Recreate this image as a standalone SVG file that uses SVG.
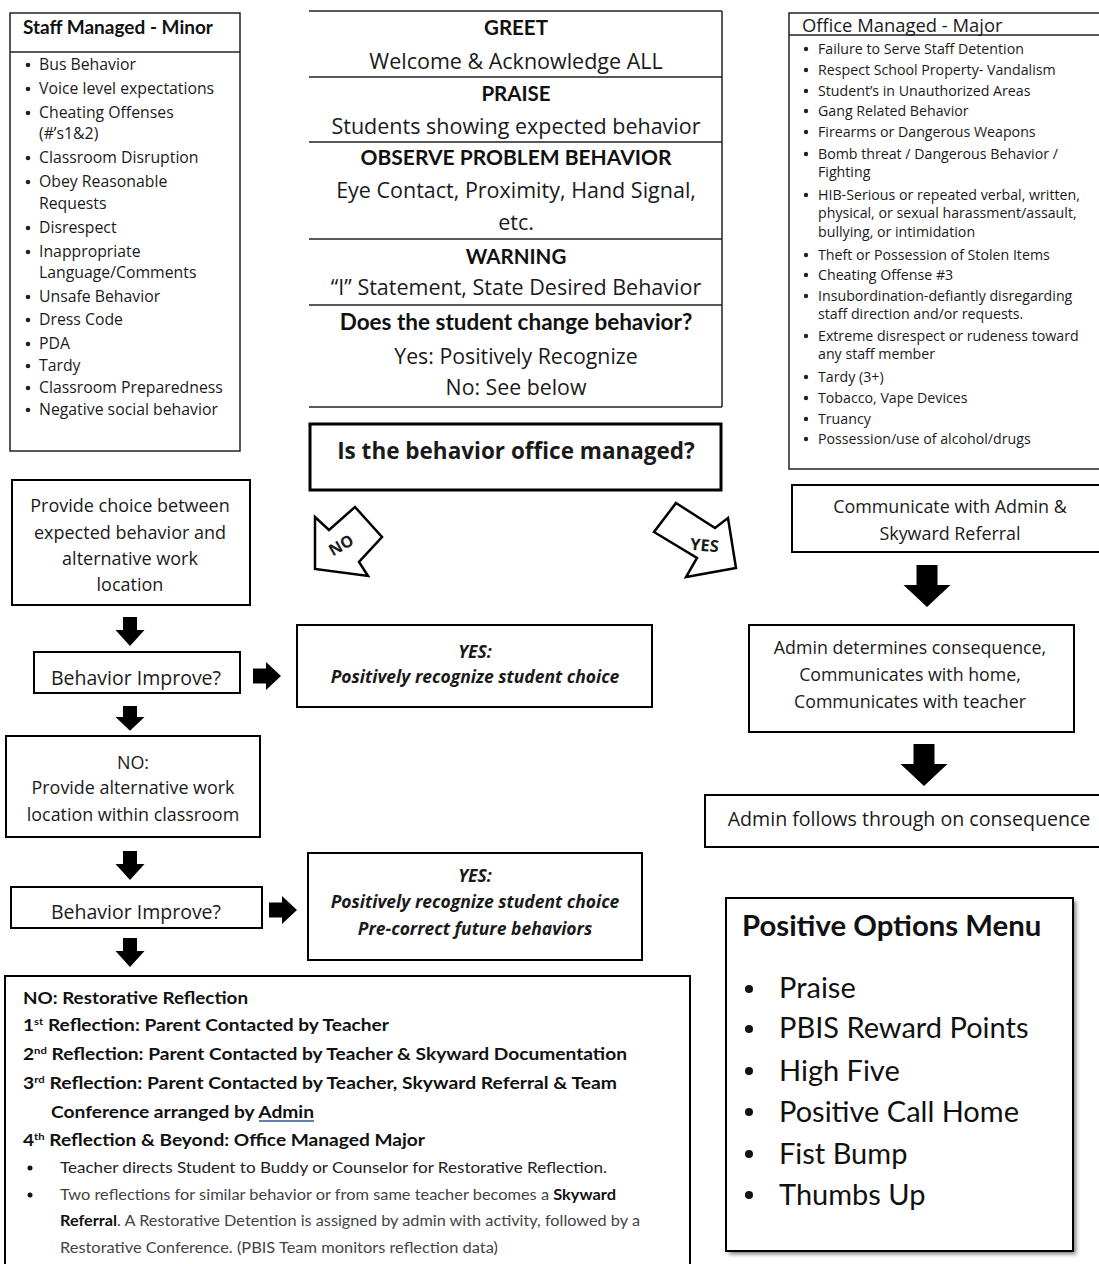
<svg xmlns="http://www.w3.org/2000/svg" width="1099" height="1264" viewBox="0 0 1099 1264">
<defs>
<style>
.bx{fill:#fff;stroke:#000;stroke-width:2}
.ln{stroke:#222;stroke-width:1.5;fill:none}
.os{font-family:"Open Sans","Noto Sans",sans-serif;fill:#1a1a1a}
.lt{font-family:Lato,"Open Sans",sans-serif;fill:#111}
.c{text-anchor:middle}
.b{font-weight:bold}
.bi{font-weight:bold;font-style:italic}
.arr{fill:#000}
.li{font-size:15.8px}
.ri{font-size:14.2px}
</style>
<path id="dn" d="M-7,0 H7 V13 H14.5 L0,29 L-14.5,13 H-7 Z"/>
<path id="dnL" d="M-10.5,0 H10.5 V20 H23.5 L0,42 L-23.5,20 H-10.5 Z"/>
<path id="rt" d="M0,-7.5 H13 V-14 L28,0 L13,14 V7.5 H0 Z"/>
<filter id="sh" x="-10%" y="-10%" width="130%" height="130%"><feGaussianBlur stdDeviation="2"/></filter>
</defs>

<g id="staff-minor">
<rect x="10" y="13" width="230" height="438" fill="#fff" stroke="#222" stroke-width="1.5"/>
<line class="ln" x1="10" y1="52" x2="240" y2="52"/>
<text class="lt b" x="23" y="34" font-size="19">Staff Managed - Minor</text>
<g fill="#222">
<circle cx="28" cy="65" r="2.3"/><circle cx="28" cy="89" r="2.3"/><circle cx="28" cy="113" r="2.3"/>
<circle cx="28" cy="158" r="2.3"/><circle cx="28" cy="182" r="2.3"/><circle cx="28" cy="228" r="2.3"/>
<circle cx="28" cy="252" r="2.3"/><circle cx="28" cy="297" r="2.3"/><circle cx="28" cy="320" r="2.3"/>
<circle cx="28" cy="344" r="2.3"/><circle cx="28" cy="366" r="2.3"/><circle cx="28" cy="388" r="2.3"/>
<circle cx="28" cy="410" r="2.3"/>
</g>
<g class="os li">
<text x="39" y="70">Bus Behavior</text>
<text x="39" y="94">Voice level expectations</text>
<text x="39" y="118">Cheating Offenses</text>
<text x="39" y="139">(#’s1&amp;2)</text>
<text x="39" y="163">Classroom Disruption</text>
<text x="39" y="187">Obey Reasonable</text>
<text x="39" y="209">Requests</text>
<text x="39" y="233">Disrespect</text>
<text x="39" y="257">Inappropriate</text>
<text x="39" y="278">Language/Comments</text>
<text x="39" y="302">Unsafe Behavior</text>
<text x="39" y="325">Dress Code</text>
<text x="39" y="349">PDA</text>
<text x="39" y="371">Tardy</text>
<text x="39" y="393">Classroom Preparedness</text>
<text x="39" y="415">Negative social behavior</text>
</g>
</g>

<g id="steps">
<g stroke="#222" stroke-width="1.5">
<line x1="309" y1="11" x2="722" y2="11"/>
<line x1="309" y1="77" x2="722" y2="77"/>
<line x1="309" y1="142" x2="722" y2="142"/>
<line x1="309" y1="239" x2="722" y2="239"/>
<line x1="309" y1="305" x2="722" y2="305"/>
<line x1="309" y1="407" x2="722" y2="407"/>
<line x1="722" y1="11" x2="722" y2="407"/>
</g>
<text class="lt b c" x="516" y="35" font-size="20.5">GREET</text>
<text class="os c" x="516" y="69" font-size="21.5">Welcome &amp; Acknowledge ALL</text>
<text class="lt b c" x="516" y="101" font-size="20.5">PRAISE</text>
<text class="os c" x="516" y="134" font-size="21.5">Students showing expected behavior</text>
<text class="lt b c" x="516" y="165" font-size="21">OBSERVE PROBLEM BEHAVIOR</text>
<text class="os c" x="516" y="198" font-size="21.5">Eye Contact, Proximity, Hand Signal,</text>
<text class="os c" x="516" y="230" font-size="21.5">etc.</text>
<text class="lt b c" x="516" y="264" font-size="20.5">WARNING</text>
<text class="os c" x="516" y="295" font-size="21.5">“I” Statement, State Desired Behavior</text>
<text class="lt b c" x="516" y="330" font-size="22.5">Does the student change behavior?</text>
<text class="os c" x="516" y="364" font-size="21.3">Yes: Positively Recognize</text>
<text class="os c" x="516" y="395" font-size="21.3">No: See below</text>
</g>

<g id="office-question">
<rect x="310" y="424" width="411" height="66" fill="#fff" stroke="#000" stroke-width="3"/>
<text class="os b c" x="516" y="459" font-size="22.5">Is the behavior office managed?</text>
</g>

<g id="office-major">
<rect x="789" y="13" width="315" height="456" fill="#fff" stroke="#222" stroke-width="1.5"/>
<line class="ln" x1="789" y1="35" x2="1099" y2="35"/>
<text class="os" x="802" y="32" font-size="18.4">Office Managed - Major</text>
<g fill="#222">
<circle cx="806" cy="49" r="2.2"/><circle cx="806" cy="70" r="2.2"/><circle cx="806" cy="91" r="2.2"/>
<circle cx="806" cy="111" r="2.2"/><circle cx="806" cy="132" r="2.2"/><circle cx="806" cy="154" r="2.2"/>
<circle cx="806" cy="195" r="2.2"/><circle cx="806" cy="255" r="2.2"/><circle cx="806" cy="275" r="2.2"/>
<circle cx="806" cy="296" r="2.2"/><circle cx="806" cy="336" r="2.2"/><circle cx="806" cy="377" r="2.2"/>
<circle cx="806" cy="398" r="2.2"/><circle cx="806" cy="419" r="2.2"/><circle cx="806" cy="439" r="2.2"/>
</g>
<g class="os ri">
<text x="818" y="54">Failure to Serve Staff Detention</text>
<text x="818" y="75">Respect School Property- Vandalism</text>
<text x="818" y="96">Student’s in Unauthorized Areas</text>
<text x="818" y="116">Gang Related Behavior</text>
<text x="818" y="137">Firearms or Dangerous Weapons</text>
<text x="818" y="159">Bomb threat / Dangerous Behavior /</text>
<text x="818" y="177">Fighting</text>
<text x="818" y="200">HIB-Serious or repeated verbal, written,</text>
<text x="818" y="218">physical, or sexual harassment/assault,</text>
<text x="818" y="237">bullying, or intimidation</text>
<text x="818" y="260">Theft or Possession of Stolen Items</text>
<text x="818" y="280">Cheating Offense #3</text>
<text x="818" y="301">Insubordination-defiantly disregarding</text>
<text x="818" y="319">staff direction and/or requests.</text>
<text x="818" y="341">Extreme disrespect or rudeness toward</text>
<text x="818" y="359">any staff member</text>
<text x="818" y="382">Tardy (3+)</text>
<text x="818" y="403">Tobacco, Vape Devices</text>
<text x="818" y="424">Truancy</text>
<text x="818" y="444">Possession/use of alcohol/drugs</text>
</g>
</g>

<g id="no-arrow">
<polygon points="315,517 329,530 355,507 382,537 359,562 368,576 315,569" fill="#fff" stroke="#000" stroke-width="2.5" stroke-linejoin="miter"/>
<text class="os b c" x="0" y="0" font-size="16" transform="translate(344,550) rotate(-30)">NO</text>
</g>
<g id="yes-arrow">
<polygon points="676,503 715,528 728,518 736,568 686,577 697,558 654,532" fill="#fff" stroke="#000" stroke-width="2.5" stroke-linejoin="miter"/>
<text class="os b c" x="0" y="0" font-size="16.5" transform="translate(704,551) rotate(5)">YES</text>
</g>

<g id="provide-choice">
<rect class="bx" x="12" y="480" width="238" height="125"/>
<text class="os c" x="130" y="512" font-size="18">Provide choice between</text>
<text class="os c" x="130" y="539" font-size="18">expected behavior and</text>
<text class="os c" x="130" y="565" font-size="18">alternative work</text>
<text class="os c" x="130" y="591" font-size="18">location</text>
</g>

<g id="behavior-improve-1">
<rect class="bx" x="34" y="652" width="206" height="41"/>
<text class="os c" x="136" y="685" font-size="19.5">Behavior Improve?</text>
</g>

<g id="yes-1">
<rect class="bx" x="297" y="625" width="355" height="82"/>
<text class="os bi c" x="475" y="658" font-size="17.5">YES:</text>
<text class="os bi c" x="475" y="683" font-size="17.5">Positively recognize student choice</text>
</g>

<g id="no-alt">
<rect class="bx" x="6" y="736" width="254" height="101"/>
<text class="os c" x="133" y="769" font-size="17.9">NO:</text>
<text class="os c" x="133" y="794" font-size="17.9">Provide alternative work</text>
<text class="os c" x="133" y="821" font-size="17.9">location within classroom</text>
</g>

<g id="behavior-improve-2">
<rect class="bx" x="11" y="887" width="251" height="41"/>
<text class="os c" x="136" y="919" font-size="19.5">Behavior Improve?</text>
</g>

<g id="yes-2">
<rect class="bx" x="308" y="853" width="334" height="107"/>
<text class="os bi c" x="475" y="882" font-size="17.5">YES:</text>
<text class="os bi c" x="475" y="908" font-size="17.5">Positively recognize student choice</text>
<text class="os bi c" x="475" y="935" font-size="17.5">Pre-correct future behaviors</text>
</g>

<g id="restorative">
<rect class="bx" x="5" y="976" width="685" height="300"/>
<g class="lt b" font-size="17">
<text x="23" y="1004" textLength="225" lengthAdjust="spacingAndGlyphs">NO: Restorative Reflection</text>
<text x="23" y="1031" textLength="366" lengthAdjust="spacingAndGlyphs">1<tspan font-size="10" dy="-6">st</tspan><tspan dy="6"> Reflection: Parent Contacted by Teacher</tspan></text>
<text x="23" y="1060" textLength="604" lengthAdjust="spacingAndGlyphs">2<tspan font-size="10" dy="-6">nd</tspan><tspan dy="6"> Reflection: Parent Contacted by Teacher &amp; Skyward Documentation</tspan></text>
<text x="23" y="1089" textLength="594" lengthAdjust="spacingAndGlyphs">3<tspan font-size="10" dy="-6">rd</tspan><tspan dy="6"> Reflection: Parent Contacted by Teacher, Skyward Referral &amp; Team</tspan></text>
<text x="51" y="1118" textLength="263" lengthAdjust="spacingAndGlyphs">Conference arranged by Admin</text>
<text x="23" y="1146" textLength="402" lengthAdjust="spacingAndGlyphs">4<tspan font-size="10" dy="-6">th</tspan><tspan dy="6"> Reflection &amp; Beyond: Office Managed Major</tspan></text>
</g>
<line x1="259" y1="1121" x2="314" y2="1121" stroke="#2f5496" stroke-width="1.3"/>
<circle cx="30" cy="1168" r="2.5" fill="#111"/>
<circle cx="30" cy="1195" r="2.5" fill="#111"/>
<g class="lt" font-size="16" fill="#333">
<text x="60" y="1173" textLength="547" lengthAdjust="spacingAndGlyphs" fill="#222">Teacher directs Student to Buddy or Counselor for Restorative Reflection.</text>
<text x="60" y="1200" textLength="556" lengthAdjust="spacingAndGlyphs" fill="#444">Two reflections for similar behavior or from same teacher becomes a <tspan font-weight="bold" fill="#111">Skyward</tspan></text>
<text x="60" y="1226" textLength="580" lengthAdjust="spacingAndGlyphs" fill="#444"><tspan font-weight="bold" fill="#111">Referral</tspan>. A Restorative Detention is assigned by admin with activity, followed by a</text>
<text x="60" y="1253" textLength="438" lengthAdjust="spacingAndGlyphs" fill="#444">Restorative Conference. (PBIS Team monitors reflection data)</text>
</g>
</g>

<g id="communicate-admin">
<rect class="bx" x="792" y="485" width="320" height="67"/>
<text class="os c" x="950" y="513" font-size="17.9">Communicate with Admin &amp;</text>
<text class="os c" x="950" y="540" font-size="17.9">Skyward Referral</text>
</g>

<g id="admin-determines">
<rect class="bx" x="749" y="625" width="325" height="107"/>
<text class="os c" x="910" y="654" font-size="17.8">Admin determines consequence,</text>
<text class="os c" x="910" y="681" font-size="17.8">Communicates with home,</text>
<text class="os c" x="910" y="708" font-size="17.8">Communicates with teacher</text>
</g>

<g id="admin-follows">
<rect class="bx" x="705" y="795" width="410" height="52"/>
<text class="os c" x="909" y="826" font-size="19.6">Admin follows through on consequence</text>
</g>

<g id="positive-menu">
<rect x="729" y="901" width="347" height="353" fill="#777" filter="url(#sh)"/>
<rect x="726" y="898" width="347" height="353" fill="#fff" stroke="#000" stroke-width="2"/>
<text class="lt b" x="742" y="936" font-size="29.3">Positive Options Menu</text>
<g fill="#111">
<circle cx="749" cy="989" r="4"/><circle cx="749" cy="1029" r="4"/><circle cx="749" cy="1071" r="4"/>
<circle cx="749" cy="1112" r="4"/><circle cx="749" cy="1154" r="4"/><circle cx="749" cy="1195" r="4"/>
</g>
<g class="lt" font-size="29">
<text x="779" y="998">Praise</text>
<text x="779" y="1038">PBIS Reward Points</text>
<text x="779" y="1081">High Five</text>
<text x="779" y="1122">Positive  Call Home</text>
<text x="779" y="1164">Fist Bump</text>
<text x="779" y="1205">Thumbs Up</text>
</g>
</g>

<g id="connectors" class="arr">
<use href="#dn" x="130" y="617"/>
<use href="#dn" transform="translate(130,706) scale(1,0.85)"/>
<use href="#dn" x="130" y="851"/>
<use href="#dn" x="130" y="938"/>
<use href="#rt" x="253" y="676"/>
<use href="#rt" x="269" y="910"/>
<use href="#dnL" x="927" y="565"/>
<use href="#dnL" x="924" y="744"/>
</g>
</svg>
